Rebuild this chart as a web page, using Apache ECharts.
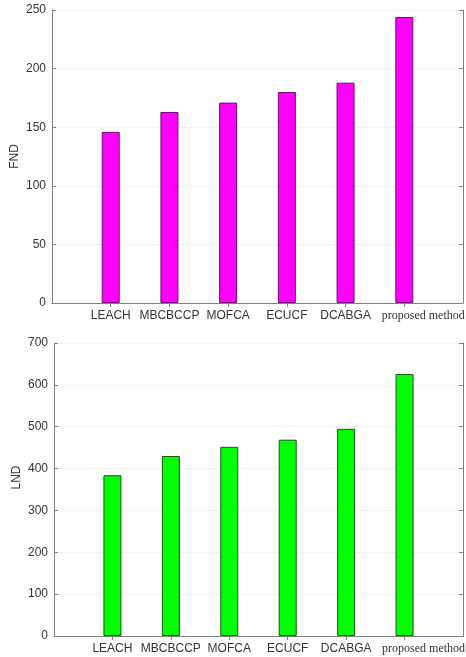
<!DOCTYPE html>
<html>
<head>
<meta charset="utf-8">
<title>FND and LND comparison</title>
<script src="https://cdn.jsdelivr.net/npm/echarts@6/dist/echarts.min.js"></script>
<style>
  html, body { margin: 0; padding: 0; background: #ffffff; }
  #chart { width: 466px; height: 657px; }
</style>
</head>
<body>
<div id="chart"></div>
<script>
// Protocols compared
const categories = ['LEACH', 'MBCBCCP', 'MOFCA', 'ECUCF', 'DCABGA', 'proposed method'];
// Round at which the first node dies
const fndValues = [146, 163, 171, 180, 188, 244];
// Round at which the last node dies
const lndValues = [384, 430, 452, 469, 495, 626];
// Y tick settings
const fndTicks = { min: 0, max: 250, interval: 50 };
const lndTicks = { min: 0, max: 700, interval: 100 };

// Blank slots at both ends give the bars their outer margin
const axisCats = [''].concat(categories, ['']);
const pad = arr => ['-'].concat(arr, ['-']);

const frameColor = '#808080';
const textColor = '#333333';
const sansFont = 'Liberation Sans, Arial, sans-serif';
const lastCat = categories[categories.length - 1];

function bottomAxis(gridIndex) {
  return {
    type: 'category', gridIndex, data: axisCats, boundaryGap: false, position: 'bottom',
    axisLine: { lineStyle: { color: frameColor, width: 1 } },
    axisTick: { show: false },
    splitLine: { show: false },
    axisLabel: {
      interval: 0, margin: 7, color: textColor, fontSize: 12, fontFamily: sansFont,
      formatter: v => v === lastCat ? '{pm|' + v + '}' : v,
      rich: {
        pm: { fontFamily: 'Liberation Serif, Times New Roman, serif', fontSize: 12, color: textColor, padding: [0, 0, 0, 38] }
      }
    }
  };
}
function topAxis(gridIndex) {
  return {
    type: 'category', gridIndex, data: axisCats, boundaryGap: false, position: 'top',
    axisLine: { lineStyle: { color: frameColor, width: 1 } },
    axisTick: { show: true, inside: true, length: 4, lineStyle: { color: frameColor },
      interval: (i) => i > 0 && i < axisCats.length - 1 },
    axisLabel: { show: false },
    splitLine: { show: false }
  };
}
function leftAxis(gridIndex, ticks, name, namePad) {
  return {
    type: 'value', gridIndex, position: 'left', min: ticks.min, max: ticks.max, interval: ticks.interval,
    name, nameLocation: 'middle', nameGap: 31, nameMoveOverlap: false,
    nameTextStyle: { color: textColor, fontSize: 12, fontFamily: sansFont, padding: namePad },
    axisLine: { show: true, lineStyle: { color: frameColor, width: 1 } },
    axisTick: { show: true, inside: true, length: 4, lineStyle: { color: frameColor } },
    axisLabel: { color: textColor, fontSize: 12, fontFamily: sansFont, margin: 6 },
    splitLine: { show: true, lineStyle: { color: '#efefef', width: 1 } }
  };
}
function rightAxis(gridIndex, ticks) {
  return {
    type: 'value', gridIndex, position: 'right', min: ticks.min, max: ticks.max, interval: ticks.interval,
    axisLine: { show: true, lineStyle: { color: frameColor, width: 1 } },
    axisTick: { show: true, inside: true, length: 4, lineStyle: { color: frameColor } },
    axisLabel: { show: false },
    splitLine: { show: false }
  };
}

const chart = echarts.init(document.getElementById('chart'), null, { renderer: 'canvas' });
chart.setOption({
  animation: false,
  backgroundColor: '#ffffff',
  grid: [
    { left: 52, right: 3, top: 10, height: 293, containLabel: false, outerBoundsMode: 'none' },
    { left: 54, right: 3, top: 343, height: 293, containLabel: false, outerBoundsMode: 'none' }
  ],
  xAxis: [bottomAxis(0), topAxis(0), bottomAxis(1), topAxis(1)],
  yAxis: [
    leftAxis(0, fndTicks, 'FND', [0, 0, 0, 0]), rightAxis(0, fndTicks),
    leftAxis(1, lndTicks, 'LND', [0, 0, 0, 24]), rightAxis(1, lndTicks)
  ],
  series: [
    {
      type: 'bar', name: 'FND', xAxisIndex: 0, yAxisIndex: 0, data: pad(fndValues), barWidth: 18,
      itemStyle: { color: '#ff00ff', borderColor: '#6a0a6a', borderWidth: 1 }
    },
    {
      type: 'bar', name: 'LND', xAxisIndex: 2, yAxisIndex: 2, data: pad(lndValues), barWidth: 18,
      itemStyle: { color: '#00ff00', borderColor: '#1f4f1f', borderWidth: 1 }
    }
  ]
});
</script>
</body>
</html>
